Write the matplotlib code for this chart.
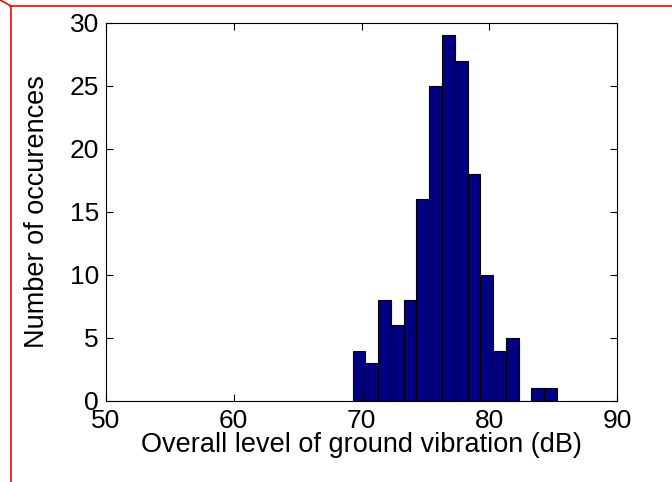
import matplotlib.pyplot as plt
from matplotlib.lines import Line2D
import numpy as np

plt.rcParams['font.family'] = ['Liberation Sans', 'DejaVu Sans']

# histogram data (bins of about 1 dB)
bin_left = [69.3, 70.3, 71.3, 72.3, 73.3, 74.3, 75.3, 76.3, 77.3, 78.3,
            79.3, 80.3, 81.3, 82.3, 83.3, 84.3]
counts = [4, 3, 8, 6, 8, 16, 25, 29, 27, 18, 10, 4, 5, 0, 1, 1]
bin_width = 1.0

x_ticks = [50, 60, 70, 80, 90]
y_ticks = [0, 5, 10, 15, 20, 25, 30]

fig = plt.figure(figsize=(6.72, 4.82), dpi=100)
ax = fig.add_axes([106 / 672, 1 - 401 / 482, 511 / 672, 378.3 / 482])

ax.bar(bin_left, counts, width=bin_width, align='edge',
       color='#000080', edgecolor='black', linewidth=0.8)

ax.set_xlim(50, 90)
ax.set_ylim(0, 30)
ax.set_xticks(x_ticks)
ax.set_yticks(y_ticks)
ax.tick_params(direction='in', top=True, right=True, labelsize=19,
               length=5, width=0.8)
ax.tick_params(axis='x', pad=6)
ax.tick_params(axis='y', pad=5)
for s in ax.spines.values():
    s.set_linewidth(0.8)

ax.set_xlabel('Overall level of ground vibration (dB)', fontsize=19.5, labelpad=-1)
ax.set_ylabel('Number of occurences', fontsize=19.5, labelpad=14)

# red frame pieces along the top and left of the picture
fig.add_artist(Line2D([10 / 672, 1], [1 - 6 / 482, 1 - 6 / 482],
                      color='red', lw=1.2, transform=fig.transFigure))
fig.add_artist(Line2D([11 / 672, 11 / 672], [0, 1 - 6 / 482],
                      color='red', lw=1.2, transform=fig.transFigure))
fig.add_artist(Line2D([0, 11 / 672], [1, 1 - 6 / 482],
                      color='red', lw=1.2, transform=fig.transFigure))

fig.savefig('out.png', dpi=100)
